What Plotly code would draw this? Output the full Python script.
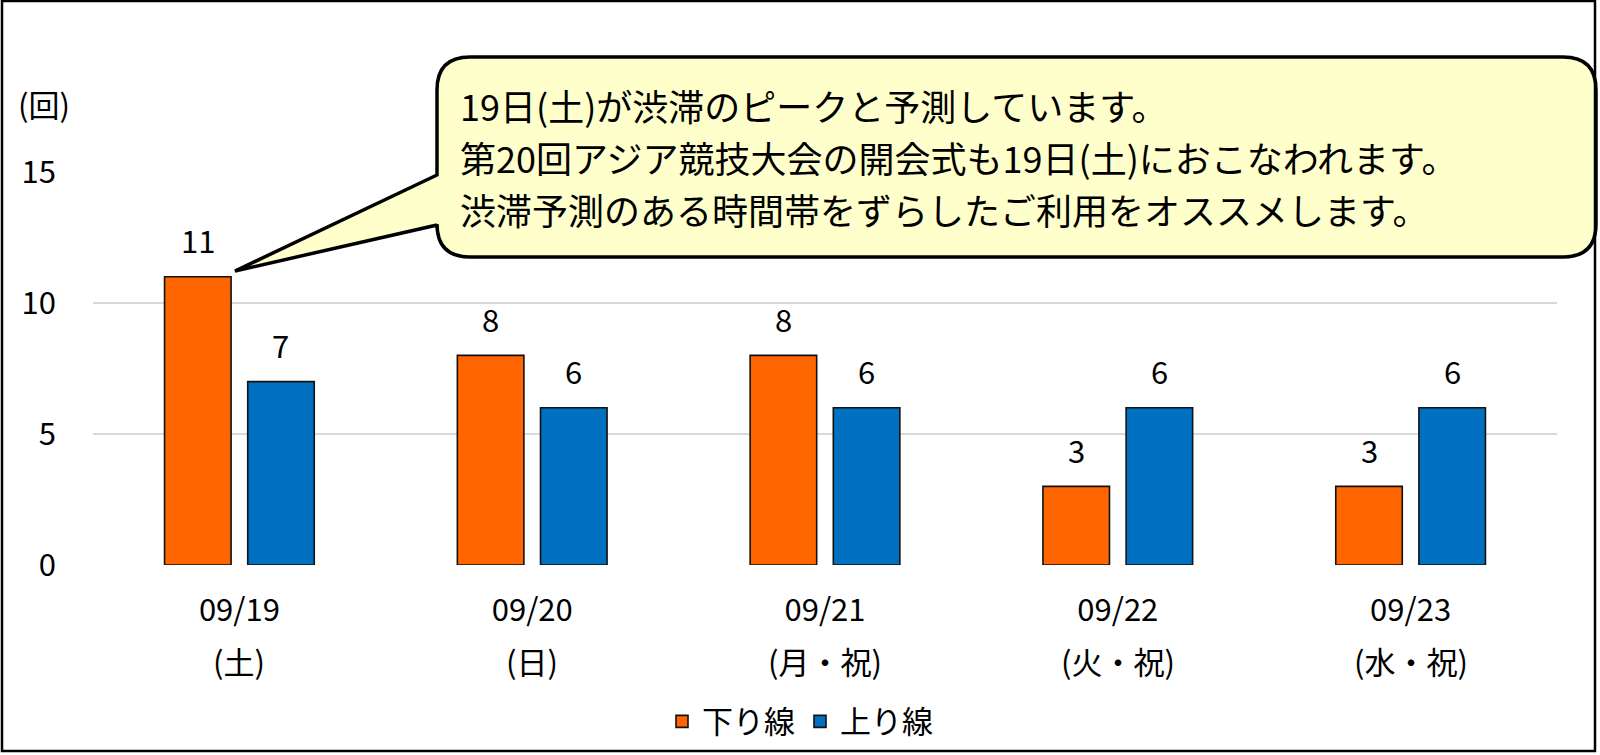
import plotly.graph_objects as go

# ---- data ----
dates = ["09/19", "09/20", "09/21", "09/22", "09/23"]
weekdays = ["(土)", "(日)", "(月・祝)", "(火・祝)", "(水・祝)"]
down_counts = [11, 8, 8, 3, 3]
up_counts = [7, 6, 6, 6, 6]
series_names = ["下り線", "上り線"]
y_ticks = [0, 5, 10, 15]
unit_label = "(回)"
callout_lines = [
    "19日(土)が渋滞のピークと予測しています。",
    "第20回アジア競技大会の開会式も19日(土)におこなわれます。",
    "渋滞予測のある時間帯をずらしたご利用をオススメします。",
]

# ---- layout geometry (pixels) ----
W, H = 1600, 755
L, R, T, B = 93, 43, 172, 190
PW, PH = W - L - R, H - T - B
FONT = "Noto Sans CJK JP, DejaVu Sans, sans-serif"
ORANGE, BLUE = "#FF6600", "#0070C0"
BARGAP, GROUPGAP = 0.432, 0.2


def px(x):
    return (x - L) / PW


def py(y):
    return (H - B - y) / PH


fig = go.Figure()
fig.add_trace(go.Bar(x=dates, y=down_counts, name=series_names[0],
                     marker=dict(color=ORANGE, line=dict(color="#111111", width=1.6))))
fig.add_trace(go.Bar(x=dates, y=up_counts, name=series_names[1],
                     marker=dict(color=BLUE, line=dict(color="#111111", width=1.6))))

annotations = []
slot = (1 - BARGAP) / 2
for vals, off in ((down_counts, -slot / 2), (up_counts, slot / 2)):
    for i, v in enumerate(vals):
        annotations.append(dict(x=i + off, y=v, xref="x", yref="y", text=str(v),
                                showarrow=False, yanchor="middle", yshift=37,
                                font=dict(family=FONT, size=31, color="#000000")))
for d, wd in zip(dates, weekdays):
    annotations.append(dict(x=d, y=py(660), xref="x", yref="paper", text=wd,
                            showarrow=False, yanchor="middle", xanchor="center",
                            font=dict(family=FONT, size=31, color="#000000")))
annotations.append(dict(x=px(44), y=py(103), xref="paper", yref="paper", text=unit_label,
                        showarrow=False, xanchor="center", yanchor="middle",
                        font=dict(family=FONT, size=31, color="#000000")))
for line, yy in zip(callout_lines, (105, 157, 209)):
    annotations.append(dict(x=px(458), y=py(yy), xref="paper", yref="paper", text=line,
                            showarrow=False, xanchor="left", yanchor="middle",
                            font=dict(family=FONT, size=36, color="#000000")))

# callout bubble path (rounded rectangle with tail)
bx0, bx1, by0, by1, r = 437, 1596, 57, 257, 33
pts = [
    ("M", (bx0, by0 + r)), ("Q", (bx0, by0), (bx0 + r, by0)),
    ("L", (bx1 - r, by0)), ("Q", (bx1, by0), (bx1, by0 + r)),
    ("L", (bx1, by1 - r)), ("Q", (bx1, by1), (bx1 - r, by1)),
    ("L", (bx0 + r, by1)), ("Q", (bx0, by1), (bx0, by1 - r)),
    ("L", (bx0, 225)), ("L", (235, 271)), ("L", (bx0, 175)),
]
path = ""
for seg in pts:
    cmd = seg[0]
    coords = " ".join(f"{px(p[0]):.5f},{py(p[1]):.5f}" for p in seg[1:])
    path += f"{cmd}{coords} "
path += "Z"

shapes = [
    dict(type="path", path=path, xref="paper", yref="paper", layer="above",
         fillcolor="#FFFFCC", line=dict(color="#000000", width=3.5)),
    dict(type="rect", x0=px(2), x1=px(1595), y0=py(751), y1=py(1), xref="paper", yref="paper",
         layer="above", fillcolor="rgba(0,0,0,0)", line=dict(color="#000000", width=2.5)),
]

fig.update_layout(
    width=W, height=H, autosize=False,
    margin=dict(l=L, r=R, t=T, b=B, pad=0),
    paper_bgcolor="#FFFFFF", plot_bgcolor="#FFFFFF",
    barmode="group", bargap=BARGAP, bargroupgap=GROUPGAP,
    font=dict(family=FONT, size=31, color="#000000"),
    xaxis=dict(type="category", tickvals=dates, ticktext=dates, showgrid=False,
               showline=False, zeroline=False, ticks="", ticklabelstandoff=24,
               tickfont=dict(family=FONT, size=31, color="#000000"), range=[-0.5, 4.5]),
    yaxis=dict(range=[0, 15], tickvals=y_ticks, showgrid=True, gridcolor="#D9D9D9",
               gridwidth=2, zeroline=False, showline=False, ticks="", ticklabelstandoff=36,
               tickfont=dict(family=FONT, size=31, color="#000000")),
    legend=dict(orientation="h", xref="container", yref="container", x=0.5, y=1 - 721.7 / H,
                xanchor="center", yanchor="middle", font=dict(family=FONT, size=31, color="#000000"),
                bgcolor="rgba(0,0,0,0)", itemwidth=30),
    annotations=annotations,
    shapes=shapes,
    showlegend=True,
)

fig.write_html(
    "out.html",
    config={"displayModeBar": False},
    post_script="document.body.style.margin='0';document.body.style.overflow='hidden';",
)
